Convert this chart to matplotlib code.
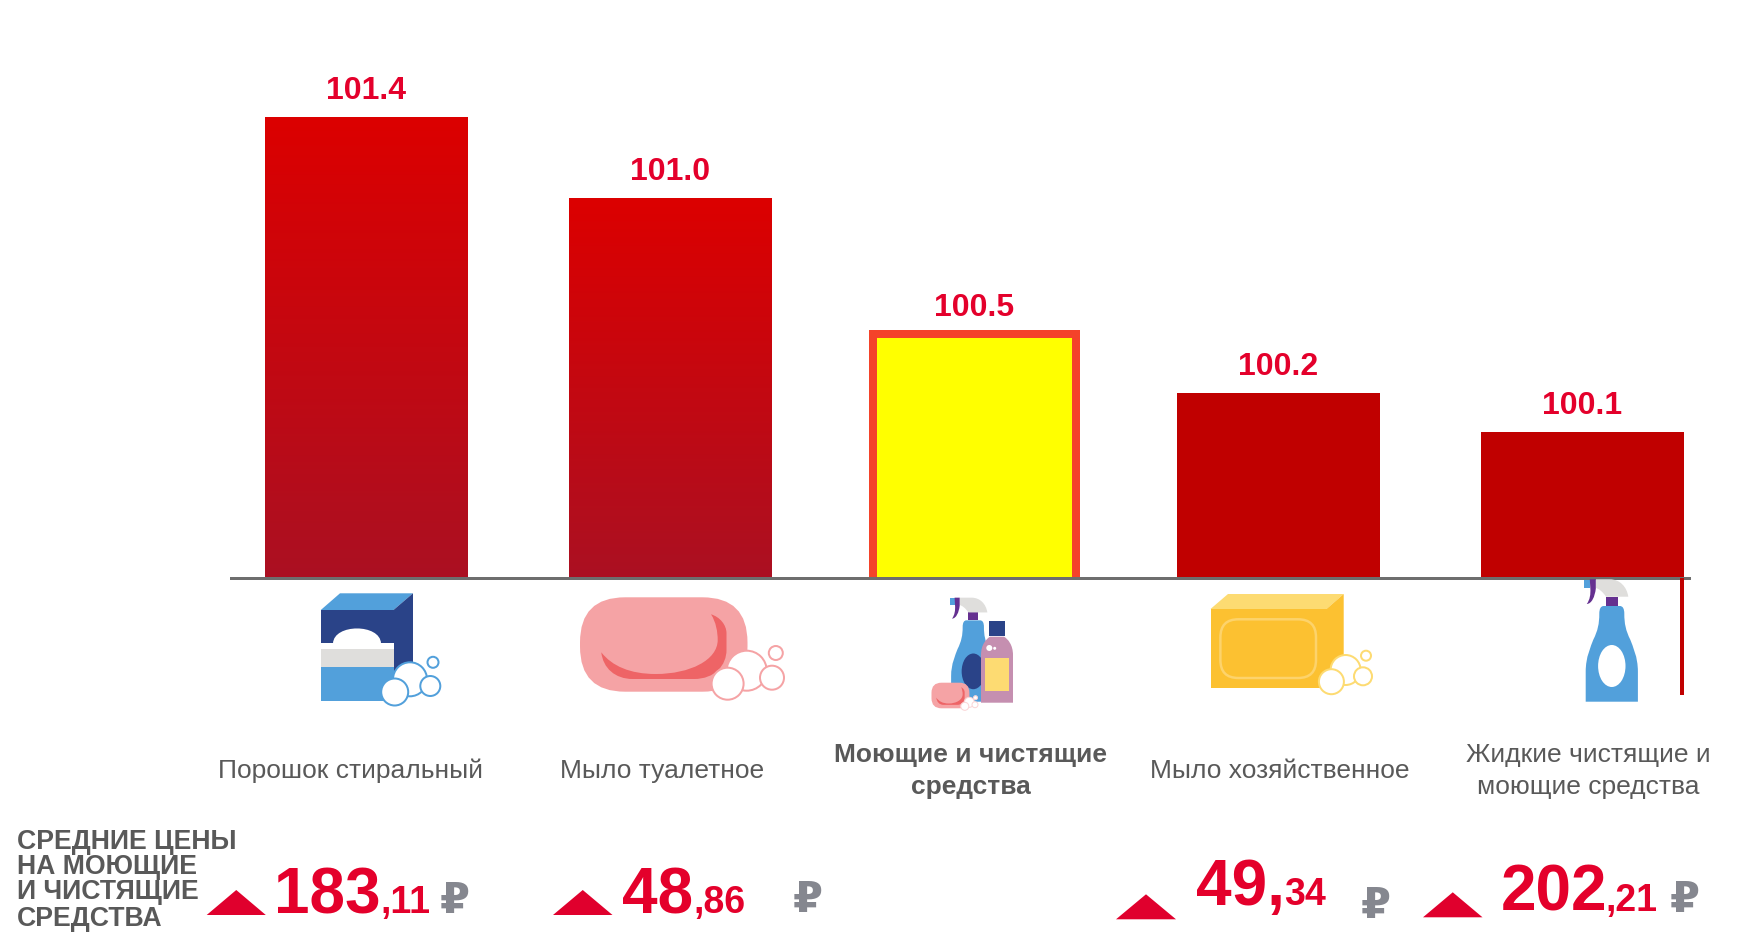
import matplotlib
matplotlib.use("Agg")
import numpy as np
import matplotlib.pyplot as plt
from matplotlib.colors import LinearSegmentedColormap
from matplotlib.patches import Polygon, Rectangle, Ellipse, FancyBboxPatch, PathPatch
from matplotlib.path import Path

plt.rcParams['font.family'] = ['Liberation Sans', 'DejaVu Sans']

# ---------- data ----------
categories = ["Порошок стиральный", "Мыло туалетное", "Моющие и чистящие\nсредства",
              "Мыло хозяйственное", "Жидкие чистящие и\nмоющие средства"]
index_values = [101.37, 101.04, 100.486, 100.245, 100.086]
price_whole = ["183", "48", None, "49,", "202"]
price_frac = [",11", ",86", None, "34", ",21"]
heading = ["СРЕДНИЕ ЦЕНЫ", "НА МОЮЩИЕ", "И ЧИСТЯЩИЕ", "СРЕДСТВА"]

# ---------- styles / layout ----------
W, H = 1737, 936
RED_TXT = "#E4002B"
GREY = "#595959"
RUB = "#85878F"
BLUE = "#52A0DB"
NAVY = "#2A4388"
PURPLE = "#653090"
LGREY = "#DFDEDC"
PINK = "#F5A3A5"
PINKD = "#EE6466"
YEL = "#FCC131"
YELL = "#FDDB72"
bar_styles = ["grad", "grad", "focus", "flat", "flat"]
label_x = [351, 662, 971, 1280, 1588]
tri_x = [(206.7, 265.8), (553, 612.5), None, (1116, 1176), (1423, 1482.5)]
tri_base = [915, 915, None, 919.3, 917.3]
whole_x = [273.5, 622, None, 1196, 1501]
frac_x = [380, 693, None, 1284, 1605]
rub_x = [454.5, 808, None, 1375.7, 1685]
whole_base = [913.3, 913.3, None, 905, 910.7]
rub_base = [913, 911.7, None, 918.3, 911.7]

fig = plt.figure(figsize=(W / 100, H / 100), dpi=100, facecolor="white")

# ---------- bars ----------
AX_L, AX_R, AX_B, AX_T = 231, 1689, 578, 60
ax = fig.add_axes([AX_L / W, 1 - AX_B / H, (AX_R - AX_L) / W, (AX_B - AX_T) / H])
x = np.arange(len(categories))
BASE = 99.49
BAR_W = 0.665
grad = LinearSegmentedColormap.from_list("g", ["#AB1022", "#DC0000"])
for xi, v, st in zip(x, index_values, bar_styles):
    if st == "focus":
        # the focus bar's lower edge runs below the axis line, so only three sides show
        b = ax.bar(xi, v - BASE + 0.1, 0.666, bottom=BASE - 0.1, facecolor="#FFFF00", edgecolor="#F4432A",
                   linewidth=8 * 0.72, joinstyle="miter", zorder=2)[0]
    else:
        b = ax.bar(xi, v - BASE, BAR_W, bottom=BASE, color="#C00000", linewidth=0, zorder=2)[0]
        if st == "grad":
            im = ax.imshow(np.linspace(1, 0, 256).reshape(-1, 1), cmap=grad, aspect="auto",
                           extent=(xi - BAR_W / 2, xi + BAR_W / 2, BASE, v), zorder=3)
            im.set_clip_path(b)
    ax.annotate(f"{v:.1f}", (xi, v), xytext=(0, 18 * 0.72), textcoords="offset points",
                ha="center", va="baseline", fontsize=23, fontweight="bold", color=RED_TXT,
                zorder=5)
ax.set_xlim((AX_L - 366.5) / 304, (AX_R - 366.5) / 304)
ax.set_ylim(BASE, BASE + (AX_B - AX_T) / 245)
for s in ("top", "left", "right"):
    ax.spines[s].set_visible(False)
ax.spines["bottom"].set_linewidth(3 * 0.72)
ax.spines["bottom"].set_color("#6E6E6E")
ax.spines["bottom"].set_zorder(6)
ax.set_xticks([])
ax.set_yticks([])
ax.patch.set_alpha(0)

# ---------- overlay in pixel coordinates ----------
ov = fig.add_axes([0, 0, 1, 1], zorder=5)
ov.set_xlim(0, W)
ov.set_ylim(H, 0)
ov.axis("off")


def poly(pts, c, z=2):
    ov.add_patch(Polygon(pts, closed=True, fc=c, ec="none", zorder=z))


def rect(x0, y0, x1, y1, c, z=2):
    ov.add_patch(Rectangle((x0, y0), x1 - x0, y1 - y0, fc=c, ec="none", zorder=z))


def ell(cx, cy, rx, ry, c, ec="none", lw=0, z=3):
    ov.add_patch(Ellipse((cx, cy), 2 * rx, 2 * ry, fc=c, ec=ec, lw=lw * 0.72, zorder=z))


def curve(cmds, c, z=2, tf=lambda p: p):
    verts, codes = [], []
    for cmd in cmds:
        k, pts = cmd[0], cmd[1:]
        code = {"M": [Path.MOVETO], "L": [Path.LINETO], "C": [Path.CURVE4] * 3}[k]
        verts += [tf(p) for p in pts]
        codes += code
    verts.append(verts[0])
    codes.append(Path.CLOSEPOLY)
    ov.add_patch(PathPatch(Path(verts, codes), fc=c, ec="none", zorder=z))


def bubbles(items, ec, lw=2):
    for i, (cx, cy, r) in enumerate(items):
        ell(cx, cy, r, r, "white", ec, lw, z=4 + (i == 1))


def soap(x0, y0, x1, y1, rad):
    ov.add_patch(FancyBboxPatch((x0, y0), x1 - x0, y1 - y0, boxstyle=f"round,pad=0,rounding_size={rad}",
                                fc=PINK, ec="none", zorder=3))
    sx, sy = (x1 - x0) / 167.5, (y1 - y0) / 94.4
    tf = lambda p: (x0 + (p[0] - 580) * sx, y0 + (p[1] - 597.3) * sy)
    curve([("M", (601.3, 652.3)),
           ("C", (603, 668), (615, 679), (632.7, 679)),
           ("L", (694, 679)),
           ("C", (715, 679), (726.5, 665), (726.5, 650)),
           ("L", (726.5, 633.3)),
           ("C", (726.5, 625), (720, 617), (711, 614.3)),
           ("C", (716, 622), (717.7, 632), (717.7, 640)),
           ("C", (717.7, 660), (690, 674), (655.7, 674)),
           ("C", (630, 674), (612, 666), (601.3, 652.3))], PINKD, z=3.5, tf=tf)


def spray(cx, by, s, inner, inner_rx=13.7):
    tf = lambda p: (cx + p[0] * s, by + p[1] * s)
    body = [("M", (-26.1, 0)), ("L", (-26.1, -30)),
            ("C", (-26.1, -45), (-21, -55), (-18.5, -62)),
            ("C", (-14, -71), (-12.5, -78), (-12.5, -88)),
            ("C", (-12.5, -93), (-11, -95.7), (-8, -95.7)),
            ("L", (8, -95.7)),
            ("C", (11, -95.7), (12.5, -93), (12.5, -88)),
            ("C", (12.5, -78), (14, -71), (18.5, -62)),
            ("C", (21, -55), (26.1, -45), (26.1, -30)),
            ("L", (26.1, 0))]
    curve(body, BLUE, tf=tf)
    ell(cx, by - 35.7 * s, inner_rx * s, 21 * s, inner, z=2.5)
    curve([("M", (-5.8, -105)), ("L", (5.9, -105)), ("L", (5.9, -95.7)), ("L", (-5.8, -95.7))], PURPLE, tf=tf)
    curve([("M", (-16, -122.4)), ("L", (-2, -122.4)),
           ("C", (8, -122.4), (15, -115), (16.5, -105)),
           ("L", (-5.8, -105)),
           ("C", (-9, -110), (-13, -113), (-16, -113.7))], LGREY, tf=tf)
    curve([("M", (-27.8, -122)), ("L", (-21.8, -122)), ("L", (-21.8, -113.7)), ("L", (-27.8, -113.7))], BLUE, tf=tf)
    curve([("M", (-22, -122.4)), ("L", (-16, -122.4)), ("L", (-16, -113)),
           ("C", (-17, -105), (-20, -98), (-25, -97.7)),
           ("C", (-22, -102), (-21, -107), (-21.5, -113.7))], PURPLE, tf=tf)


# icon 1: powder box
poly([(320.8, 610), (340, 593.3), (413, 593.3), (393.5, 610)], BLUE)
poly([(393.5, 610), (413, 593.3), (413, 666.7), (393.5, 683.3)], NAVY)
rect(320.8, 610, 393.5, 643.3, NAVY)
ov.add_patch(PathPatch(Path([(333, 643.3), (334, 623.5), (380, 623.5), (381, 643.3), (333, 643.3)],
                            [Path.MOVETO, Path.CURVE4, Path.CURVE4, Path.CURVE4, Path.CLOSEPOLY]),
                       fc="white", ec="none", zorder=2.2))
rect(320.8, 643.3, 393.5, 649.3, "white")
rect(320.8, 649.3, 393.5, 667.3, LGREY)
rect(320.8, 667.3, 393.5, 700.7, BLUE)
bubbles([(410, 679.3, 17), (394.7, 692, 13.5), (430.3, 686, 10), (433, 662.3, 5.5)], BLUE)

# icon 2: toilet soap
soap(580, 597.3, 747.5, 691.7, 45)
bubbles([(746.7, 670.7, 20), (727.6, 683.7, 16), (772, 677.7, 12), (775.8, 653, 7)], PINK)

# icon 3: set of bottles
spray(973.3, 701.7, 0.85, NAVY)
curve([("M", (981, 702.7)), ("L", (981, 655)),
       ("C", (981, 645), (986, 639), (990, 636.7)),
       ("L", (1004, 636.7)),
       ("C", (1008, 639), (1013, 645), (1013, 655)),
       ("L", (1013, 702.7))], "#C58FB0", z=2.6)
rect(989.3, 621, 1004.6, 635.7, NAVY, z=2.6)
rect(985, 658, 1009, 690.7, YELL, z=2.7)
ell(989.3, 648, 3, 3, "white")
ell(994.7, 648.3, 1.5, 1.5, "white")
soap(931.5, 682.7, 969.4, 708.3, 10)
bubbles([(969.4, 702.3, 5), (964.8, 706.3, 4), (975, 704.7, 3), (975.5, 697.7, 2)], "#FAD5D6", lw=1)

# icon 4: laundry soap
poly([(1210.5, 609), (1228, 594), (1343.7, 594), (1326.5, 609)], YELL)
poly([(1326.5, 609), (1343.7, 594), (1343.7, 673.3), (1326.5, 688.3)], YEL)
rect(1210.5, 609, 1326.5, 688.3, YEL)
ov.add_patch(FancyBboxPatch((1220.4, 619.3), 95.6, 58.7, boxstyle="round,pad=0,rounding_size=18",
                            fc="none", ec="#FDD36B", lw=2.5 * 0.72, zorder=3))
bubbles([(1345.6, 670, 15), (1331.4, 681.7, 12.5), (1363, 676.3, 9), (1366, 655.7, 5)], YELL)

# icon 5: spray bottle, and the red stem
spray(1611.8, 701.7, 1.0, "white")
rect(1680, 578, 1684, 695, "#C00000")

# ---------- category labels ----------
for lx, cat, st in zip(label_x, categories, bar_styles):
    lines = cat.split("\n")
    bases = [778] if len(lines) == 1 else [761.7, 794]
    for ln, by in zip(lines, bases):
        ov.text(lx, by, ln, ha="center", va="baseline", fontsize=19, color=GREY,
                fontweight="bold" if st == "focus" else "normal")

# ---------- price row ----------
for ln, by in zip(heading, [849.3, 874, 899.3, 926]):
    ov.text(17, by, ln, ha="left", va="baseline", fontsize=19.2, fontweight="bold", color=GREY)

for i, w in enumerate(price_whole):
    if w is None:
        continue
    (a, b), base = tri_x[i], tri_base[i]
    poly([(a, base), ((a + b) / 2, base - 25), (b, base)], "#E0002D")
    ov.text(whole_x[i], whole_base[i], w, ha="left", va="baseline", fontsize=46,
            fontweight="bold", color=RED_TXT)
    ov.text(frac_x[i], whole_base[i], price_frac[i], ha="left", va="baseline", fontsize=27,
            fontweight="bold", color=RED_TXT)
    ov.text(rub_x[i], rub_base[i], "₽", ha="center", va="baseline", fontsize=31,
            fontweight="bold", color=RUB)

fig.savefig("out.png", dpi=100, facecolor="white")
